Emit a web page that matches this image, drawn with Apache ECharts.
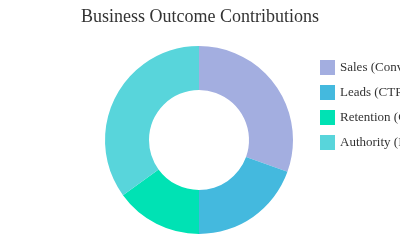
<!DOCTYPE html>
<html><head><meta charset="utf-8">
<script src="https://cdn.jsdelivr.net/npm/echarts@6/dist/echarts.min.js"></script>
<style>html,body{margin:0;padding:0;background:#fff}#c{width:400px;height:250px}</style>
</head><body><div id="c"></div>
<script>
const categories = ["Sales (Conversions)", "Leads (CTR)", "Retention (Churn)", "Authority (Impressions)"];
const values = [30.5, 19.5, 15, 35];
const colors = ["#a3aee0", "#44b9de", "#00e2b4", "#58d5db"];
const chart = echarts.init(document.getElementById('c'), null, {renderer: 'canvas'});
chart.setOption({
  animation: false,
  color: colors,
  title: {
    text: "Business Outcome Contributions",
    left: 'center', top: 3,
    textStyle: {fontFamily: 'Liberation Serif', fontSize: 18, fontWeight: 'normal', color: '#333'}
  },
  legend: {
    orient: 'vertical', left: 315, top: 55,
    itemWidth: 15, itemHeight: 15, itemGap: 10,
    icon: 'rect',
    textStyle: {fontFamily: 'Liberation Serif', fontSize: 13, color: '#333'},
    data: categories
  },
  series: [{
    type: 'pie',
    center: [199, 140],
    radius: [50, 94],
    startAngle: 90,
    label: {show: false},
    labelLine: {show: false},
    data: categories.map((n, i) => ({name: n, value: values[i]}))
  }]
});
</script></body></html>
